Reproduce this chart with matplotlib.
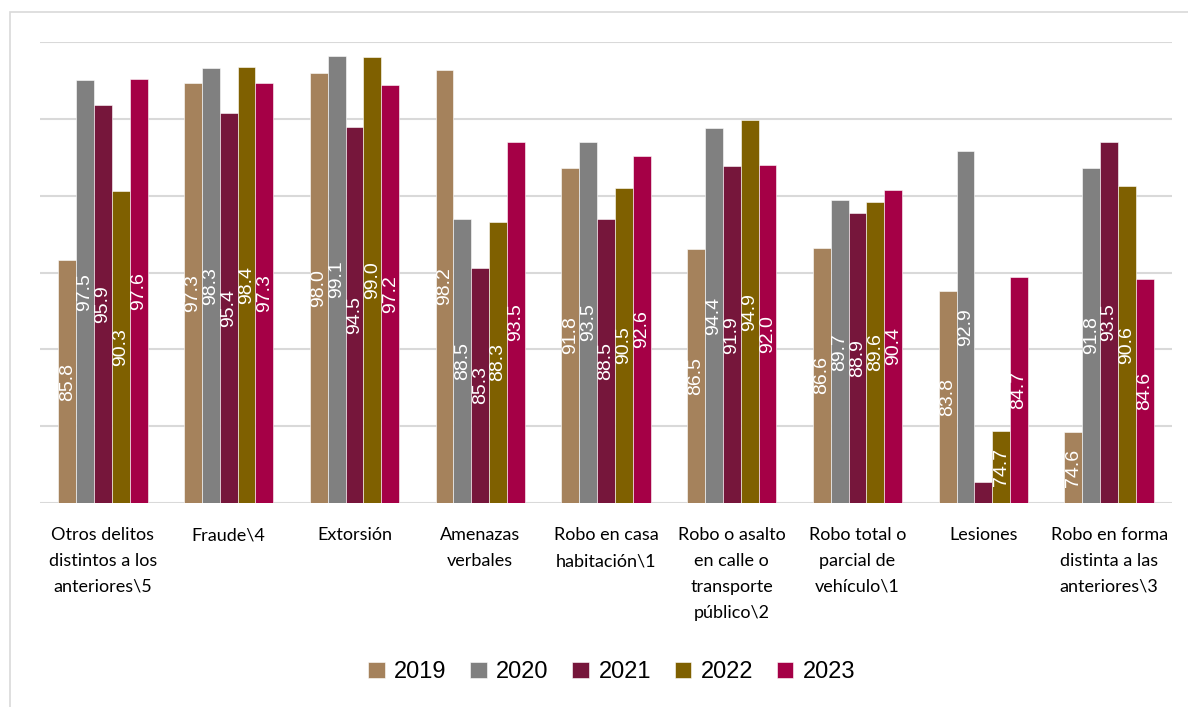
import numpy as np
import matplotlib
matplotlib.use("Agg")
import matplotlib.pyplot as plt
from matplotlib.patches import Rectangle

plt.rcParams['font.family'] = ['Lato', 'DejaVu Sans']

# categories and values per year
categories = ['Otros delitos\ndistintos a los\nanteriores\\5', 'Fraude\\4', 'Extorsión',
              'Amenazas\nverbales', 'Robo en casa\nhabitación\\1',
              'Robo o asalto\nen calle o\ntransporte\npúblico\\2',
              'Robo total o\nparcial de\nvehículo\\1', 'Lesiones',
              'Robo en forma\ndistinta a las\nanteriores\\3']
years = ['2019', '2020', '2021', '2022', '2023']
v2019 = [85.8, 97.3, 98.0, 98.2, 91.8, 86.5, 86.6, 83.8, 74.6]
v2020 = [97.5, 98.3, 99.1, 88.5, 93.5, 94.4, 89.7, 92.9, 91.8]
v2021 = [95.9, 95.4, 94.5, 85.3, 88.5, 91.9, 88.9, 71.4, 93.5]
v2022 = [90.3, 98.4, 99.0, 88.3, 90.5, 94.9, 89.6, 74.7, 90.6]
v2023 = [97.6, 97.3, 97.2, 93.5, 92.6, 92.0, 90.4, 84.7, 84.6]
colors = ['#A5825C', '#808080', '#76163B', '#7F6000', '#A50046']

series = [v2019, v2020, v2021, v2022, v2023]
base = 70

fig = plt.figure(figsize=(11.88, 7.07), dpi=100)
ax = fig.add_axes([0.0337, 0.2885, 0.9528, 0.6521])

x = np.arange(len(categories))
w = 0.142
for i, (vals, c) in enumerate(zip(series, colors)):
    vals = np.array(vals)
    ax.bar(x + (i - 2) * w, vals - base, w, bottom=base, color=c,
           edgecolor='white', linewidth=0.4, label=years[i], zorder=2)
    for xi, v in zip(x + (i - 2) * w, vals):
        if v - base < 2:
            # too short: label sits above the bar (white on white, like the original)
            ax.text(xi, v + 1.2, f'{v:.1f}', rotation=90, ha='center', va='bottom',
                    color='white', fontsize=14, family='Liberation Sans', zorder=3)
        else:
            ax.text(xi, base + (v - base) / 2, f'{v:.1f}', rotation=90, ha='center',
                    va='center', color='white', fontsize=14,
                    family='Liberation Sans', zorder=3)

ax.set_ylim(70, 100)
ax.set_xlim(-0.5, len(categories) - 0.5)
ax.set_yticks(np.arange(70, 101, 5))
ax.yaxis.grid(True, color='#d9d9d9', linewidth=1.5, zorder=0)
ax.set_axisbelow(True)
ax.tick_params(axis='y', left=False, labelleft=False)
ax.tick_params(axis='x', bottom=False, pad=14)
ax.set_xticks(x)
ax.set_xticklabels(categories, fontsize=13, linespacing=1.75, va='top')
for s in ax.spines.values():
    s.set_visible(False)

ax.legend(loc='center', bbox_to_anchor=(0.505, -0.367), ncol=5, frameon=False,
          prop={'family': 'Liberation Sans', 'size': 17}, handlelength=0.7,
          handleheight=0.7, handletextpad=0.4, columnspacing=1.0)

fig.patches.append(Rectangle((10 / 1188, -0.05), 1.1, 1 - 12 / 707 + 0.05,
                             transform=fig.transFigure, fill=False,
                             edgecolor='#d9d9d9', linewidth=1.2))

fig.savefig('out.png', dpi=100)
